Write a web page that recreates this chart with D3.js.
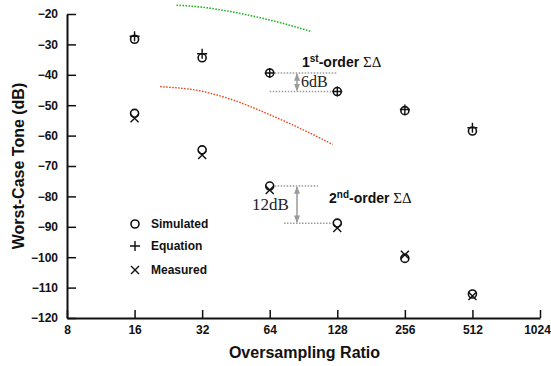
<!DOCTYPE html>
<html>
<head>
<meta charset="utf-8">
<script src="https://cdn.jsdelivr.net/npm/d3@7"></script>
<style>
  html, body { margin: 0; padding: 0; background: #fff; }
  svg { display: block; }
  text { font-family: "Liberation Sans", Arial, Helvetica, sans-serif; }
</style>
</head>
<body>
<script>
// Oversampling ratios at which the modulators were evaluated
const osr = [16, 32, 64, 128, 256, 512];

// First-order sigma-delta worst-case tone (dB)
const first_simulated = [-28.3, -34.4, -39.4, -45.5, -51.8, -58.5];
const first_equation  = [-27.3, -33.1, -39.4, -45.5, -51.4, -57.4];

// Second-order sigma-delta worst-case tone (dB)
const second_simulated = [-52.7, -64.7, -76.6, -88.8, -100.4, -112.1];
const second_measured  = [-54.3, -66.4, -77.9, -90.4, -99.2, -112.8];

// Dotted trend curves [OSR, dB]
const greenCurve = [[24.6, -17.1], [32.4, -17.8], [45.6, -19.6], [64.2, -22.0], [98.5, -25.8]];
const redCurve   = [[20.8, -43.9], [31.3, -45.3], [44.0, -48.3], [62.0, -52.7], [87.3, -57.6], [122.1, -62.9]];

// Axis ticks
const xTicks = [8, 16, 32, 64, 128, 256, 512, 1024];
const yTicks = [-20, -30, -40, -50, -60, -70, -80, -90, -100, -110, -120];

const W = 551, H = 366;
const svg = d3.select("body").append("svg").attr("width", W).attr("height", H);

const x = d3.scaleLog().base(2).domain([8, 1024]).range([67, 540]);
const y = d3.scaleLinear().domain([-120, -20]).range([318, 14]);

// Axes with inward ticks
const gx = svg.append("g").attr("transform", `translate(0,${y(-120)})`)
  .call(d3.axisBottom(x).tickValues(xTicks).tickFormat(d3.format("d"))
    .tickSizeInner(-8).tickSizeOuter(0).tickPadding(7));
const gy = svg.append("g").attr("transform", `translate(${x(8)},0)`)
  .call(d3.axisLeft(y).tickValues(yTicks).tickFormat(d3.format("d"))
    .tickSizeInner(-9).tickSizeOuter(0).tickPadding(9));
[gx, gy].forEach(g => {
  g.select(".domain").attr("stroke", "#111").attr("stroke-width", 2);
  g.selectAll(".tick line").attr("stroke", "#111").attr("stroke-width", 1.5);
  g.selectAll(".tick text").attr("fill", "#111")
    .style("font-family", "'Liberation Sans', Arial, sans-serif")
    .style("font-size", "12px").style("font-weight", "bold");
});
// keep the last ratio label inside the frame
gx.selectAll(".tick text").filter(d => d === 1024).attr("dx", -3);

// Axis titles
svg.append("text").attr("x", (x(8) + x(1024)) / 2 + 1).attr("y", 358)
  .attr("text-anchor", "middle").style("font-size", "16px").style("font-weight", "bold")
  .attr("fill", "#111").text("Oversampling Ratio");
svg.append("text").attr("transform", `translate(24,${(y(-20) + y(-120)) / 2}) rotate(-90)`)
  .attr("text-anchor", "middle").style("font-size", "16px").style("font-weight", "bold")
  .attr("fill", "#111").text("Worst-Case Tone (dB)");

// Dotted trend curves
const curveLine = d3.line().x(d => x(d[0])).y(d => y(d[1])).curve(d3.curveMonotoneX);
svg.append("path").datum(greenCurve).attr("d", curveLine)
  .attr("fill", "none").attr("stroke", "#28b428").attr("stroke-width", 1.6)
  .attr("stroke-dasharray", "1.6,1.4");
svg.append("path").datum(redCurve).attr("d", curveLine)
  .attr("fill", "none").attr("stroke", "#ec4a1c").attr("stroke-width", 1.4)
  .attr("stroke-dasharray", "1.6,1.4");

// Marker shapes
const R = 4;
function circleMark(g, cx, cy) {
  g.append("circle").attr("cx", cx).attr("cy", cy).attr("r", R)
    .attr("fill", "none").attr("stroke", "#111").attr("stroke-width", 1.6);
}
function plusMark(g, cx, cy) {
  const s = 5;
  g.append("path").attr("d", `M${cx - s},${cy}H${cx + s}M${cx},${cy - s}V${cy + s}`)
    .attr("stroke", "#111").attr("stroke-width", 1.4).attr("fill", "none");
}
function crossMark(g, cx, cy) {
  const s = 4;
  g.append("path").attr("d", `M${cx - s},${cy - s}L${cx + s},${cy + s}M${cx - s},${cy + s}L${cx + s},${cy - s}`)
    .attr("stroke", "#111").attr("stroke-width", 1.4).attr("fill", "none");
}

const marks = svg.append("g");
osr.forEach((o, i) => {
  circleMark(marks, x(o), y(first_simulated[i]));
  plusMark(marks, x(o), y(first_equation[i]));
  circleMark(marks, x(o), y(second_simulated[i]));
  crossMark(marks, x(o), y(second_measured[i]));
});

// Level-difference annotations
const grey = "#9a9a9a";
const defs = svg.append("defs");
defs.append("marker").attr("id", "ah").attr("viewBox", "0 0 10 10")
  .attr("refX", 9).attr("refY", 5).attr("markerWidth", 5).attr("markerHeight", 5)
  .attr("orient", "auto-start-reverse")
  .append("path").attr("d", "M0,1L10,5L0,9Z").attr("fill", grey);

function gap(xa1, xa2, va, xb1, xb2, vb, ax) {
  svg.append("line").attr("x1", xa1).attr("x2", xa2).attr("y1", y(va)).attr("y2", y(va))
    .attr("stroke", grey).attr("stroke-width", 1.5).attr("stroke-dasharray", "1.5,1.5");
  svg.append("line").attr("x1", xb1).attr("x2", xb2).attr("y1", y(vb)).attr("y2", y(vb))
    .attr("stroke", grey).attr("stroke-width", 1.5).attr("stroke-dasharray", "1.5,1.5");
  svg.append("line").attr("x1", ax).attr("x2", ax).attr("y1", y(va) + 1).attr("y2", y(vb) - 1)
    .attr("stroke", grey).attr("stroke-width", 1.5)
    .attr("marker-start", "url(#ah)").attr("marker-end", "url(#ah)");
}
// 6 dB between OSR 64 and 128 (first order)
gap(x(64) + 5, x(128), first_simulated[2], x(64), x(128) - 5, first_simulated[3], 297);
// 12 dB between OSR 64 and 128 (second order)
gap(x(64) + 5, 318, second_simulated[2], 284, x(128) - 5, second_simulated[3], 297);

svg.append("text").attr("x", 301).attr("y", 87)
  .style("font-family", "'Liberation Serif', 'Times New Roman', serif").style("font-size", "16px")
  .attr("fill", "#222").text("6dB");
svg.append("text").attr("x", 252).attr("y", 210)
  .style("font-family", "'Liberation Serif', 'Times New Roman', serif").style("font-size", "17px")
  .attr("fill", "#222").text("12dB");

function orderLabel(tx, ty, num, sup) {
  const t = svg.append("text").attr("x", tx).attr("y", ty).attr("fill", "#111")
    .style("font-size", "14px").style("font-weight", "bold");
  t.append("tspan").text(num);
  t.append("tspan").attr("dy", -5).style("font-size", "10px").text(sup);
  t.append("tspan").attr("dy", 5).text("-order ");
  t.append("tspan").style("font-family", "'Liberation Serif', 'Times New Roman', serif")
    .style("font-weight", "normal").style("font-size", "15px").text("ΣΔ");
}
orderLabel(302, 67, "1", "st");
orderLabel(329, 203, "2", "nd");

// Legend
const legend = [
  { label: "Simulated", draw: circleMark },
  { label: "Equation", draw: plusMark },
  { label: "Measured", draw: crossMark }
];
const legendY = [224, 246, 270];
legend.forEach((d, i) => {
  d.draw(svg, 135, legendY[i]);
  svg.append("text").attr("x", 151).attr("y", legendY[i]).attr("dy", "0.35em")
    .attr("fill", "#111").style("font-size", "12px").style("font-weight", "bold").text(d.label);
});
</script>
</body>
</html>
